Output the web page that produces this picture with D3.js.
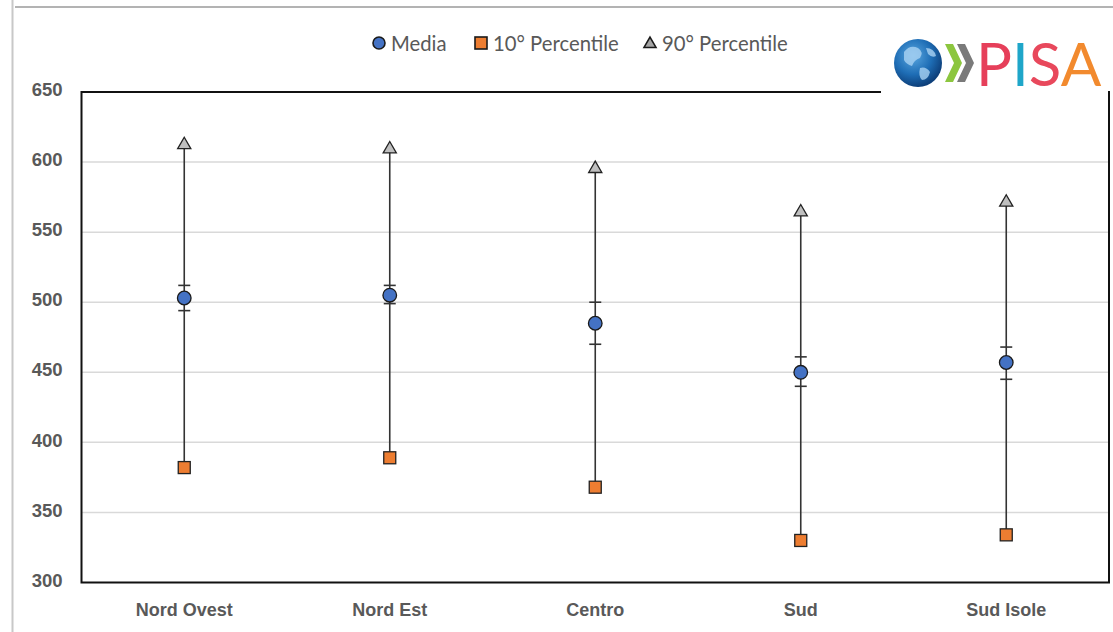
<!DOCTYPE html>
<html><head><meta charset="utf-8">
<script src="https://cdn.jsdelivr.net/npm/d3@7"></script>
<style>html,body{margin:0;padding:0;background:#fff;}svg{display:block;}</style>
</head><body>
<svg id="chart" width="1113" height="632"></svg>
<script>
const categories = ["Nord Ovest", "Nord Est", "Centro", "Sud", "Sud Isole"];
const media = [503, 505, 485, 450, 457];
const ciLow = [494, 499, 470, 440, 445];
const ciHigh = [512, 512, 500, 461, 468];
const p10 = [382, 389, 368, 330, 334];
const p90 = [613, 610, 596, 565, 572];
const yTicks = [300, 350, 400, 450, 500, 550, 600, 650];
const legendLabels = ["Media", "10° Percentile", "90° Percentile"];

const svg = d3.select("#chart");
const W = 1113, H = 632;
const m = {left: 81.5, right: 1109, top: 92, bottom: 582.5};

// outer frame lines
svg.append("line").attr("x1", 12.5).attr("x2", 12.5).attr("y1", 0).attr("y2", H)
  .attr("stroke", "#c8c8c8").attr("stroke-width", 2);
svg.append("line").attr("x1", 15).attr("x2", W).attr("y1", 7).attr("y2", 7)
  .attr("stroke", "#9a9a9a").attr("stroke-width", 1.5);

const x = d3.scaleBand().domain(categories).range([m.left, m.right]);
const y = d3.scaleLinear().domain([300, 650]).range([m.bottom, m.top]);

// gridlines
svg.append("g").selectAll("line").data(yTicks.slice(1, -1)).join("line")
  .attr("x1", m.left).attr("x2", m.right)
  .attr("y1", d => y(d)).attr("y2", d => y(d))
  .attr("stroke", "#d9d9d9").attr("stroke-width", 1.5);

// y axis labels
const yAxis = d3.axisLeft(y).tickValues(yTicks).tickSize(0).tickPadding(19);
const gy = svg.append("g").attr("transform", `translate(${m.left},0)`).call(yAxis);
gy.select(".domain").remove();
gy.selectAll("text").attr("font-family", "Liberation Sans, Arial, sans-serif")
  .attr("font-size", 18.5).attr("font-weight", "bold").attr("fill", "#595959").attr("dy", "0.2em");

// x axis labels
const xAxis = d3.axisBottom(x).tickSize(0).tickPadding(21);
const gx = svg.append("g").attr("transform", `translate(0,${m.bottom})`).call(xAxis);
gx.select(".domain").remove();
gx.selectAll("text").attr("font-family", "Liberation Sans, Arial, sans-serif")
  .attr("font-size", 18).attr("font-weight", "bold").attr("fill", "#595959");

// plot border
svg.append("path")
  .attr("d", `M${m.right},${m.top - 1}V${m.bottom}H${m.left}V${m.top}H881`)
  .attr("fill", "none").attr("stroke", "#111").attr("stroke-width", 2);

const data = categories.map((c, i) => ({c, media: media[i], lo: ciLow[i], hi: ciHigh[i], p10: p10[i], p90: p90[i]}));
const cx = d => x(d.c) + x.bandwidth() / 2;

const g = svg.append("g");
// range lines
g.selectAll(".rng").data(data).join("line")
  .attr("x1", cx).attr("x2", cx).attr("y1", d => y(d.p10)).attr("y2", d => y(d.p90))
  .attr("stroke", "#333").attr("stroke-width", 1.6);
// CI caps
["lo", "hi"].forEach(k => {
  g.selectAll(".cap" + k).data(data).join("line")
    .attr("x1", d => cx(d) - 6).attr("x2", d => cx(d) + 6)
    .attr("y1", d => y(d[k])).attr("y2", d => y(d[k]))
    .attr("stroke", "#333").attr("stroke-width", 1.6);
});
// squares
g.selectAll(".sq").data(data).join("rect")
  .attr("x", d => cx(d) - 6).attr("y", d => y(d.p10) - 6)
  .attr("width", 12).attr("height", 12)
  .attr("fill", "#ED7D31").attr("stroke", "#222").attr("stroke-width", 1.3);
// triangles
const tri = d3.symbol().type(d3.symbolTriangle).size(75);
g.selectAll(".tri").data(data).join("path")
  .attr("d", tri).attr("transform", d => `translate(${cx(d)},${y(d.p90) + 1})`)
  .attr("fill", "#BFBFBF").attr("stroke", "#222").attr("stroke-width", 1.3);
// circles
g.selectAll(".circ").data(data).join("circle")
  .attr("cx", cx).attr("cy", d => y(d.media)).attr("r", 6.8)
  .attr("fill", "#4472C4").attr("stroke", "#1a1a1a").attr("stroke-width", 1.3);

// legend
const leg = svg.append("g").attr("font-family", "Lato, 'Open Sans', sans-serif").attr("font-size", 20.3).attr("fill", "#595959");
const legX = [379, 481, 650];
leg.append("circle").attr("cx", legX[0]).attr("cy", 43).attr("r", 6)
  .attr("fill", "#4472C4").attr("stroke", "#1a1a1a").attr("stroke-width", 1.6);
leg.append("rect").attr("x", legX[1] - 6).attr("y", 37).attr("width", 12).attr("height", 12)
  .attr("fill", "#ED7D31").attr("stroke", "#1a1a1a").attr("stroke-width", 1.6);
leg.append("path").attr("d", d3.symbol().type(d3.symbolTriangle).size(62))
  .attr("transform", `translate(${legX[2]},44)`)
  .attr("fill", "#A5A5A5").attr("stroke", "#1a1a1a").attr("stroke-width", 1.6);
legendLabels.forEach((t, i) => {
  leg.append("text").attr("x", legX[i] + 12).attr("y", 50.5).text(t);
});

// PISA logo
const logo = svg.append("g");
logo.append("rect").attr("x", 882).attr("y", 26).attr("width", 231).attr("height", 64).attr("fill", "#fff");
const defs = svg.append("defs");
const rg = defs.append("radialGradient").attr("id", "globe").attr("cx", "40%").attr("cy", "35%").attr("r", "65%");
rg.append("stop").attr("offset", "0%").attr("stop-color", "#5aa7e0");
rg.append("stop").attr("offset", "60%").attr("stop-color", "#1e6db5");
rg.append("stop").attr("offset", "100%").attr("stop-color", "#0d3f7a");
logo.append("circle").attr("cx", 918).attr("cy", 63).attr("r", 24).attr("fill", "url(#globe)");
logo.append("path").attr("d", "M904,52 q6,-8 14,-4 q6,4 2,10 q-6,2 -8,8 q-6,-2 -8,-6 z M920,68 q6,-2 10,4 q-2,8 -8,8 q-4,-4 -2,-12 z M926,48 q8,0 10,8 q-4,2 -8,-2 z")
  .attr("fill", "#a9d2f2").attr("opacity", 0.8);
logo.append("path").attr("d", "M945,44 L953,44 L962,63 L953,82 L945,82 L954,63 Z").attr("fill", "#8cc63f");
logo.append("path").attr("d", "M957,44 L965,44 L974,63 L965,82 L957,82 L966,63 Z").attr("fill", "#7a7a7a");
const pt = logo.append("text").attr("x", 976).attr("y", 86)
  .attr("font-family", "Lato, 'Open Sans', sans-serif").attr("font-size", 60).attr("font-weight", 400);
[["P", "#e63f5a"], ["I", "#1fa6c9"], ["S", "#e8485c"], ["A", "#f28a2e"]].forEach(([t, c]) => {
  pt.append("tspan").attr("fill", c).text(t);
});
</script>
</body></html>
